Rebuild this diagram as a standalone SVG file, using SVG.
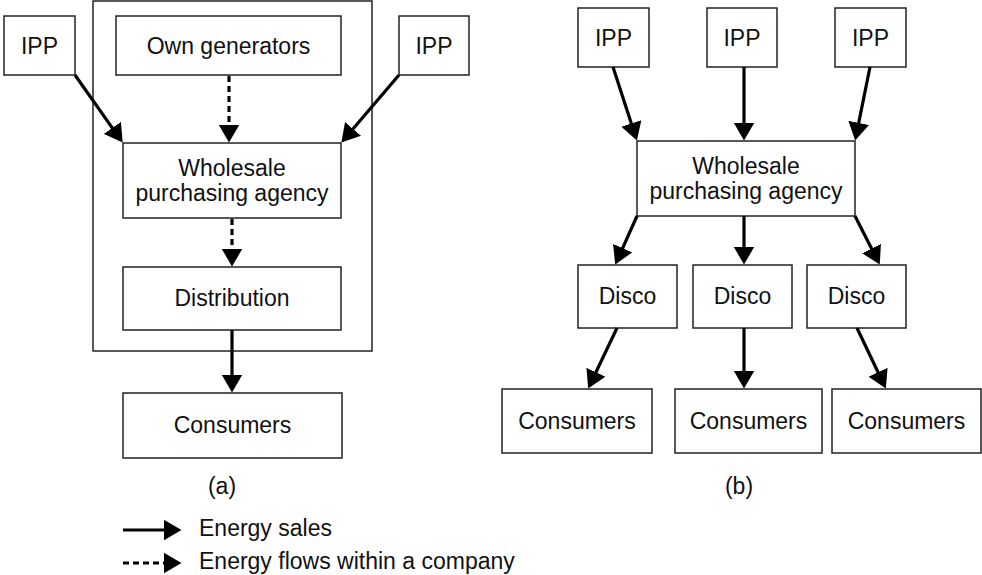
<svg xmlns="http://www.w3.org/2000/svg" width="982" height="575" viewBox="0 0 982 575">
<defs>
<style>
.box{fill:#fff;stroke:#222;stroke-width:1.5}
.frame{fill:none;stroke:#222;stroke-width:1.5}
.t{font-family:"Liberation Sans",Arial,sans-serif;font-size:23px;fill:#111;text-anchor:middle}
.tl{font-family:"Liberation Sans",Arial,sans-serif;font-size:23px;fill:#111}
.sale{fill:none;stroke:#000;stroke-width:3.2;marker-end:url(#ah)}
.flow{fill:none;stroke:#000;stroke-width:3.2;stroke-dasharray:6 4;marker-end:url(#ah)}
</style>
<marker id="ah" markerUnits="userSpaceOnUse" viewBox="0 0 18 21" markerWidth="18" markerHeight="21" refX="0.5" refY="10.5" orient="auto">
<path d="M0,0 L18,10.5 L0,21 Z" fill="#000"/>
</marker>
</defs>
<rect width="982" height="575" fill="#fff"/>

<g id="company-frame"><rect class="frame" x="93" y="1" width="279" height="350"/></g>

<g id="a-ipp-left"><rect class="box" x="4" y="16" width="71" height="59"/><text class="t" x="39.5" y="54">IPP</text></g>
<g id="a-own-generators"><rect class="box" x="116" y="16" width="225" height="59"/><text class="t" x="228.5" y="54">Own generators</text></g>
<g id="a-ipp-right"><rect class="box" x="399" y="16" width="70" height="59"/><text class="t" x="434" y="54">IPP</text></g>
<g id="a-wholesale"><rect class="box" x="123" y="143" width="218" height="75"/><text class="t" x="232" y="176">Wholesale</text><text class="t" x="232" y="201">purchasing agency</text></g>
<g id="a-distribution"><rect class="box" x="123" y="267" width="218" height="63"/><text class="t" x="232" y="306">Distribution</text></g>
<g id="a-consumers"><rect class="box" x="123" y="393" width="219" height="65"/><text class="t" x="232.5" y="433">Consumers</text></g>

<g id="b-ipp-1"><rect class="box" x="578" y="8" width="71" height="59"/><text class="t" x="613.5" y="46">IPP</text></g>
<g id="b-ipp-2"><rect class="box" x="707" y="8" width="70" height="59"/><text class="t" x="742" y="46">IPP</text></g>
<g id="b-ipp-3"><rect class="box" x="835" y="8" width="71" height="59"/><text class="t" x="870.5" y="46">IPP</text></g>
<g id="b-wholesale"><rect class="box" x="637" y="141" width="218" height="75"/><text class="t" x="746" y="174">Wholesale</text><text class="t" x="746" y="199">purchasing agency</text></g>
<g id="b-disco-1"><rect class="box" x="578" y="265" width="99" height="63"/><text class="t" x="627.5" y="304">Disco</text></g>
<g id="b-disco-2"><rect class="box" x="693" y="265" width="99" height="63"/><text class="t" x="742.5" y="304">Disco</text></g>
<g id="b-disco-3"><rect class="box" x="807" y="265" width="99" height="63"/><text class="t" x="856.5" y="304">Disco</text></g>
<g id="b-consumers-1"><rect class="box" x="502" y="389" width="150" height="64"/><text class="t" x="577" y="429">Consumers</text></g>
<g id="b-consumers-2"><rect class="box" x="675" y="389" width="147" height="64"/><text class="t" x="748.5" y="429">Consumers</text></g>
<g id="b-consumers-3"><rect class="box" x="832" y="389" width="149" height="64"/><text class="t" x="906.5" y="429">Consumers</text></g>

<g id="connectors">
<path class="sale" d="M75,75 L112.6,128.3"/>
<path class="sale" d="M399,75 L352.7,129.3"/>
<path class="flow" d="M229,76 L229,125"/>
<path class="flow" d="M232,219 L232,249"/>
<path class="sale" d="M232,330 L232,375"/>

<path class="sale" d="M613,67 L631.5,123.9"/>
<path class="sale" d="M744,67 L744,123"/>
<path class="sale" d="M870,67 L858.6,123.4"/>
<path class="sale" d="M637,216 L622.4,248.6"/>
<path class="sale" d="M744,216 L744,247"/>
<path class="sale" d="M855,216 L871.8,249"/>
<path class="sale" d="M617,328 L595.7,372.7"/>
<path class="sale" d="M744,328 L744,371"/>
<path class="sale" d="M857,328 L878.3,372.7"/>
</g>

<g id="captions">
<text class="t" x="222" y="494">(a)</text>
<text class="t" x="739" y="494">(b)</text>
</g>

<g id="legend">
<path class="sale" d="M123,530 L164,530"/>
<text class="tl" x="199" y="536">Energy sales</text>
<path class="flow" d="M123,563 L164,563"/>
<text class="tl" x="199" y="569">Energy flows within a company</text>
</g>
</svg>
